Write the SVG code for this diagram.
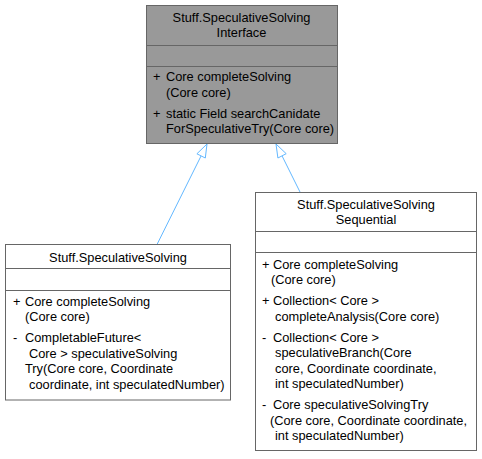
<svg xmlns="http://www.w3.org/2000/svg" width="482" height="459" viewBox="0 0 482 459">
<style>
text{font-family:"Liberation Sans",Arial,Helvetica,sans-serif;font-size:12.8px;fill:#000}
.c{text-anchor:middle}
.box{fill:#fff;stroke:#666;stroke-width:1}
.hl{fill:#999;stroke:#666;stroke-width:1}
.sep{stroke:#666;stroke-width:1}
.edge{stroke:#63b8ff;stroke-width:1;fill:none}
.head{fill:#fff;stroke:#63b8ff;stroke-width:1}
</style>
<rect width="482" height="459" fill="#fff"/>
<g id="connectors">
<line class="edge" x1="157" y1="244.5" x2="201.1" y2="155.9"/>
<polygon class="head" points="207,144 205.3,158 196.9,153.8"/>
<line class="edge" x1="300" y1="192" x2="282" y2="155.8"/>
<polygon class="head" points="276,144 286.2,153.7 277.9,158"/>
</g>
<g id="node-interface">
<rect class="hl" x="146.5" y="5.5" width="191" height="138"/>
<line class="sep" x1="146.5" y1="45.5" x2="337.5" y2="45.5"/>
<line class="sep" x1="146.5" y1="66.5" x2="337.5" y2="66.5"/>
<text class="c" x="241.5" y="22">Stuff.SpeculativeSolving</text>
<text class="c" x="241.5" y="37">Interface</text>
<text x="153" y="81">+</text>
<text x="166" y="81">Core completeSolving</text>
<text x="166" y="96.5">(Core core)</text>
<text x="153" y="117.5">+</text>
<text x="166" y="117.5">static Field searchCanidate</text>
<text x="166" y="133">ForSpeculativeTry(Core core)</text>
</g>
<g id="node-solving">
<rect class="box" x="5.5" y="244.5" width="225" height="155.5"/>
<line class="sep" x1="5.5" y1="268.5" x2="230.5" y2="268.5"/>
<line class="sep" x1="5.5" y1="290.5" x2="230.5" y2="290.5"/>
<text class="c" x="118" y="262">Stuff.SpeculativeSolving</text>
<text x="13" y="305.5">+</text>
<text x="25" y="305.5">Core completeSolving</text>
<text x="25" y="321">(Core core)</text>
<text x="13" y="342">-</text>
<text x="25" y="342">CompletableFuture&lt;</text>
<text x="29" y="357.5">Core &gt; speculativeSolving</text>
<text x="25" y="373">Try(Core core, Coordinate</text>
<text x="29" y="388.5">coordinate, int speculatedNumber)</text>
</g>
<g id="node-sequential">
<rect class="box" x="255.5" y="192.5" width="221" height="258"/>
<line class="sep" x1="255.5" y1="231.5" x2="476.5" y2="231.5"/>
<line class="sep" x1="255.5" y1="252.5" x2="476.5" y2="252.5"/>
<text class="c" x="366" y="208.5">Stuff.SpeculativeSolving</text>
<text class="c" x="366" y="224">Sequential</text>
<text x="262" y="268.5">+</text>
<text x="273" y="268.5">Core completeSolving</text>
<text x="271" y="284">(Core core)</text>
<text x="262" y="305">+</text>
<text x="273" y="305">Collection&lt; Core &gt;</text>
<text x="275" y="320.5">completeAnalysis(Core core)</text>
<text x="262" y="341.5">-</text>
<text x="273" y="341.5">Collection&lt; Core &gt;</text>
<text x="275" y="357">speculativeBranch(Core</text>
<text x="275" y="372.5">core, Coordinate coordinate,</text>
<text x="275" y="388">int speculatedNumber)</text>
<text x="262" y="409">-</text>
<text x="273" y="409">Core speculativeSolvingTry</text>
<text x="270" y="424.5">(Core core, Coordinate coordinate,</text>
<text x="275" y="440">int speculatedNumber)</text>
</g>
</svg>
